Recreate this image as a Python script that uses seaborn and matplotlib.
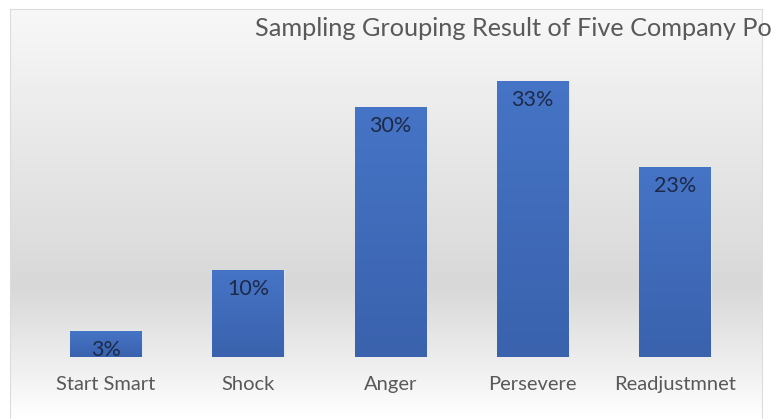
import numpy as np
import pandas as pd
import matplotlib
matplotlib.use("Agg")
import matplotlib.pyplot as plt
import seaborn as sns
from matplotlib.colors import LinearSegmentedColormap

categories = ["Start Smart", "Shock", "Anger", "Persevere", "Readjustmnet"]
values = [3.1, 10.4, 30.0, 33.1, 22.8]
value_labels = ["3%", "10%", "30%", "33%", "23%"]
title = "Sampling Grouping Result of Five Company Po"

sns.set_theme(style="white")
plt.rcParams['font.family'] = ['Lato', 'DejaVu Sans']

W, H = 771, 419
fig = plt.figure(figsize=(W / 100, H / 100), dpi=100)
fig.patch.set_facecolor("white")

# chart-area background with vertical gradient
bg = fig.add_axes([10 / W, 0, (762 - 10) / W, (H - 9) / H])
bg_cmap = LinearSegmentedColormap.from_list(
    "bg", [(0.0, "#f8f8f8"), (0.25, "#ececec"), (0.68, "#d8d8d8"), (0.88, "#f0f0f0"), (1.0, "#ffffff")])
grad = np.linspace(0, 1, 256).reshape(-1, 1)
bg.imshow(grad, aspect="auto", cmap=bg_cmap, extent=[0, 1, 0, 1], origin="upper")
bg.set_xlim(0, 1)
bg.set_ylim(0, 1)
bg.set_xticks([])
bg.set_yticks([])
for s in bg.spines.values():
    s.set_color("#dcdcdc")
    s.set_linewidth(0.8)
bg.spines["bottom"].set_visible(False)

ax = fig.add_axes([35 / W, (H - 357) / H, (746 - 35) / W, (357 - 40) / H])
ax.set_facecolor("none")
df = pd.DataFrame({"cat": categories, "val": values})
sns.barplot(data=df, x="cat", y="val", color="#4472c4", width=0.505, ax=ax,
            edgecolor="#dfe7f5", linewidth=0.8, saturation=1)
ax.set_ylim(0, 38.0)
ax.set_xlim(-0.5, len(categories) - 0.5)

# gradient fill on bars
bar_cmap = LinearSegmentedColormap.from_list("bar", ["#3a62ad", "#4674c6"])
for p in ax.patches:
    x0, y0 = p.get_x(), p.get_y()
    w, h = p.get_width(), p.get_height()
    im = ax.imshow(np.linspace(0, 1, 100).reshape(-1, 1), cmap=bar_cmap, origin="lower",
                   extent=[x0, x0 + w, y0, y0 + h], aspect="auto", zorder=p.get_zorder() + 0.1)
    im.set_clip_path(p)
ax.set_xlim(-0.5, len(categories) - 0.5)
ax.set_ylim(0, 38.0)
ax.set_aspect("auto")

for p, lab in zip(ax.patches, value_labels):
    ax.annotate(lab, (p.get_x() + p.get_width() / 2, p.get_height()),
                xytext=(0, -6.5), textcoords="offset points", ha="center", va="top",
                fontsize=15.5, color="#1c2a48", zorder=10)

ax.set_xlabel("")
ax.set_ylabel("")
ax.set_yticks([])
ax.tick_params(axis="x", length=0, pad=14, labelsize=14.5, labelcolor="#595959")
for s in ax.spines.values():
    s.set_visible(False)

fig.text(255 / W, 1 - 28 / H, title, ha="left", va="center", fontsize=18.2, color="#595959")

fig.savefig("out.png", dpi=100)
